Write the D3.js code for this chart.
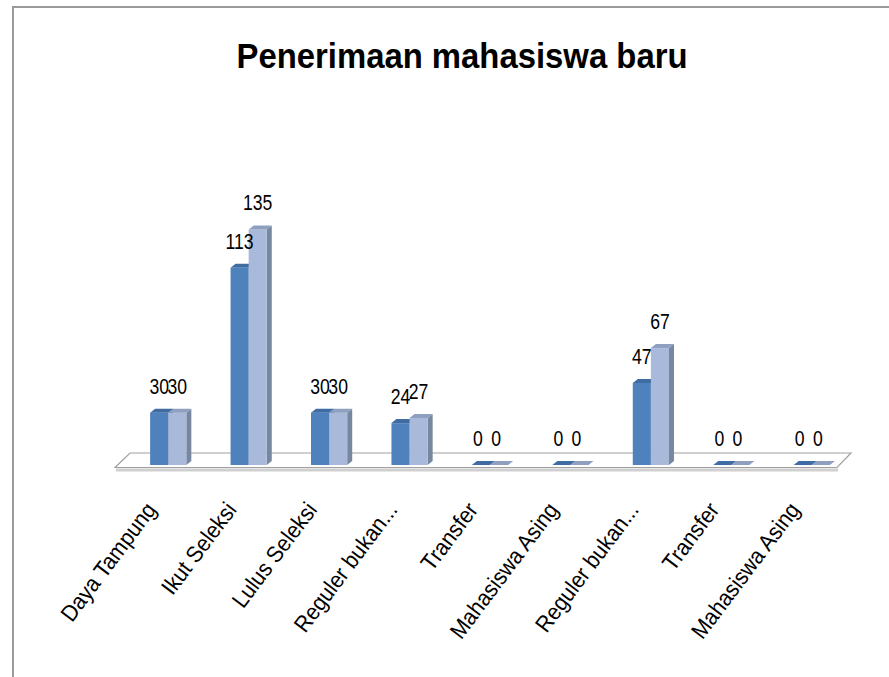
<!DOCTYPE html>
<html>
<head>
<meta charset="utf-8">
<script src="https://cdn.jsdelivr.net/npm/d3@7"></script>
<style>
  body { margin: 0; background: #fff; }
  svg { display: block; }
</style>
</head>
<body>
<div id="chart-area"></div>
<script>
// data
var categories = ["Daya Tampung", "Ikut Seleksi", "Lulus Seleksi", "Reguler bukan...", "Transfer",
  "Mahasiswa Asing", "Reguler bukan...", "Transfer", "Mahasiswa Asing"];
var series1 = [30, 113, 30, 24, 0, 0, 47, 0, 0];
var series2 = [30, 135, 30, 27, 0, 0, 67, 0, 0];
var title = "Penerimaan mahasiswa baru";

var width = 889;
var height = 677;
var base = 465;      // front baseline of the bars
var dx = 5, dy = 4;  // 3d depth of the bars

var svg = d3.select("#chart-area")
  .append("svg")
  .attr("width", width)
  .attr("height", height);

// outer frame (only top and left visible)
svg.append("path")
  .attr("d", "M13,677 L13,7 L889,7")
  .attr("fill", "none")
  .attr("stroke", "#9a9a9a")
  .attr("stroke-width", 2);

svg.append("text")
  .attr("x", 462)
  .attr("y", 68)
  .attr("text-anchor", "middle")
  .attr("font-family", "Liberation Sans, Arial, sans-serif")
  .attr("font-weight", "bold")
  .attr("font-size", "35px")
  .attr("textLength", 451)
  .attr("lengthAdjust", "spacingAndGlyphs")
  .attr("fill", "#000")
  .text(title);

var x = d3.scaleBand()
  .domain(d3.range(categories.length))
  .range([128, 852])
  .paddingInner(0.55)
  .paddingOuter(0.275);

var x1 = d3.scaleBand()
  .domain([0, 1])
  .range([0, x.bandwidth()]);

var y = d3.scaleLinear()
  .domain([0, 140])
  .range([base, base - 140 * 1.745]);

// floor
var g = svg.append("g");
g.append("path")
  .attr("d", "M116,470 L838,470")
  .attr("stroke", "#d0d0d0")
  .attr("stroke-width", 3);
g.append("path")
  .attr("d", "M115,467.5 L130,453 L851,453 L837,467.5 Z")
  .attr("fill", "#fff")
  .attr("stroke", "#a0a0a0")
  .attr("stroke-width", 1.2);

var colors = [
  { front: "#4f81bd", top: "#3f6ca3", side: "#3a6496" },
  { front: "#a8b9da", top: "#8e9fc0", side: "#77879f" }
];

var bars = [];
categories.forEach(function(c, i) {
  bars.push({ i: i, s: 0, v: series1[i] });
  bars.push({ i: i, s: 1, v: series2[i] });
});

var bar = g.selectAll("g.bar")
  .data(bars).enter()
  .append("g")
  .attr("class", "bar");

bar.append("path")
  .attr("fill", d => colors[d.s].side)
  .attr("d", function(d) {
    var x0 = x(d.i) + x1(d.s) + x1.bandwidth();
    var yt = y(d.v);
    return "M" + x0 + "," + yt + " L" + (x0 + dx) + "," + (yt - dy) + " L" + (x0 + dx) + "," + (base - dy) +
      " L" + x0 + "," + base + "Z";
  });

bar.append("rect")
  .attr("x", d => x(d.i) + x1(d.s))
  .attr("y", d => y(d.v))
  .attr("width", x1.bandwidth())
  .attr("height", d => base - y(d.v))
  .attr("fill", d => colors[d.s].front);

bar.append("path")
  .attr("fill", d => colors[d.s].top)
  .attr("d", function(d) {
    var x0 = x(d.i) + x1(d.s);
    var w = x1.bandwidth();
    var yt = y(d.v);
    return "M" + x0 + "," + yt + " L" + (x0 + dx) + "," + (yt - dy) + " L" + (x0 + w + dx) + "," + (yt - dy) +
      " L" + (x0 + w) + "," + yt + "Z";
  });

// value labels
g.selectAll("text.value")
  .data(bars).enter()
  .append("text")
  .attr("class", "value")
  .attr("text-anchor", "middle")
  .attr("font-family", "Liberation Sans, Arial, sans-serif")
  .attr("font-size", "22px")
  .attr("fill", "#000")
  .attr("transform", function(d) {
    var cx = x(d.i) + x1(d.s) + x1.bandwidth() / 2 - (d.v === 0 ? 3 : 0);
    return "translate(" + cx + "," + (y(d.v) - 19) + ") scale(0.8,1)";
  })
  .text(d => d.v);

// category labels
g.selectAll("text.cat")
  .data(categories).enter()
  .append("text")
  .attr("class", "cat")
  .attr("text-anchor", "end")
  .attr("font-family", "Liberation Sans, Arial, sans-serif")
  .attr("font-size", "23px")
  .attr("fill", "#000")
  .attr("transform", function(d, i) {
    var cx = x(i) + x.bandwidth() / 2 - 11;
    return "translate(" + cx + ",510) rotate(-53) scale(0.92,1)";
  })
  .text(d => d);
</script>
</body>
</html>
